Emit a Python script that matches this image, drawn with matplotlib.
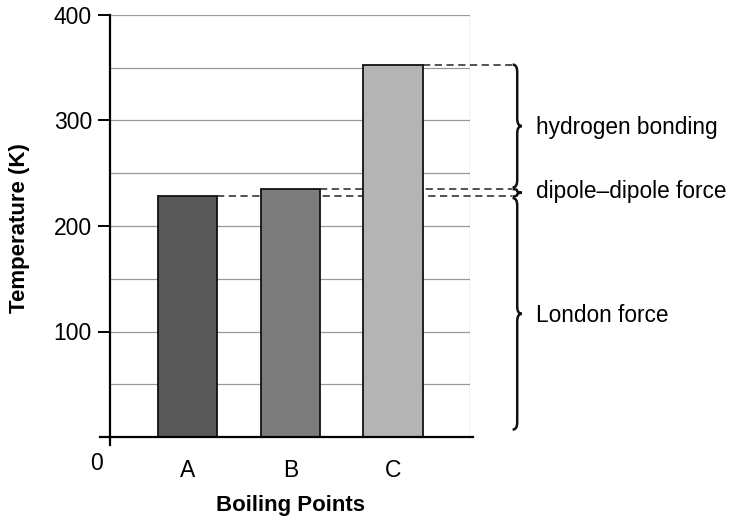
import matplotlib
matplotlib.use("Agg")
import matplotlib.pyplot as plt
import numpy as np
from matplotlib.path import Path
from matplotlib.patches import PathPatch

categories = ["A", "B", "C"]
boiling_points = [228, 235, 353]
bar_colors = ["#585858", "#7c7c7c", "#b4b4b4"]
y_ticks = [100, 200, 300, 400]
grid_levels = [50, 100, 150, 200, 250, 300, 350, 400]
force_labels = ["hydrogen bonding", "dipole\u2013dipole force", "London force"]

plt.rcParams['font.family'] = ['Liberation Sans', 'DejaVu Sans']

fig = plt.figure(figsize=(7.29, 5.18), dpi=100)
ax = fig.add_axes([110/729, 1-437/518, (470-110)/729, (437-15)/518])
x = np.arange(len(categories))
ax.set_xlim(-0.757, 2.75)
ax.set_ylim(0, 400)

for g in grid_levels:
    ax.axhline(g, color="#9a9a9a", lw=0.9, zorder=0)
ax.axvline(2.75, color="#9a9a9a", lw=0.9, zorder=0)

# dashed lines from tops of bars to braces
xend = 3.16
xstarts = [x[0] + 0.29, x[1] + 0.29, x[2] + 0.29]
for xs, v in zip(xstarts, boiling_points):
    ax.plot([xs, xend], [v, v], ls=(0, (4, 2.5)), color="#444444", lw=1.3,
            clip_on=False, zorder=1)

ax.bar(x, boiling_points, width=0.58, color=bar_colors, edgecolor="#111111",
       linewidth=1.3, zorder=2)

for s in ["top", "right"]:
    ax.spines[s].set_visible(False)
ax.spines["left"].set_linewidth(1.6)
ax.spines["bottom"].set_linewidth(1.6)
ax.spines["left"].set_bounds(-8, 400)
ax.spines["bottom"].set_bounds(-0.85, 2.78)

ax.set_yticks(y_ticks)
ax.set_yticklabels([str(t) for t in y_ticks], fontsize=16.5)
ax.tick_params(axis="y", length=9, width=1.4, pad=4)
ax.set_xticks(x)
ax.set_xticklabels(categories, fontsize=16.5)
ax.tick_params(axis="x", length=0, pad=16)
ax.text(-0.885, -14, "0", fontsize=16.5, ha="center", va="top")

ax.set_ylabel("Temperature (K)", fontsize=16, fontweight="bold")
ax.yaxis.set_label_coords((20-110)/360, (437-228)/422)
ax.set_xlabel("Boiling Points", fontsize=16, fontweight="bold")
ax.xaxis.set_label_coords((291-110)/360, -(505-437)/422)
ax.xaxis.label.set_va("center")
ax.yaxis.label.set_va("center")


def brace(ax, xb, y0, y1, w=0.09, r=7):
    # right-facing curly brace from y0 (bottom) to y1 (top)
    ym = (y0 + y1) / 2
    r = min(r, (y1 - y0) / 4)
    verts = [
        (xb - w * 0.5, y1),
        (xb, y1), (xb, y1 - r),
        (xb, ym + r),
        (xb, ym), (xb + w * 0.5, ym),
        (xb, ym), (xb, ym - r),
        (xb, y0 + r),
        (xb, y0), (xb - w * 0.5, y0),
    ]
    codes = [Path.MOVETO,
             Path.CURVE3, Path.CURVE3,
             Path.LINETO,
             Path.CURVE3, Path.CURVE3,
             Path.CURVE3, Path.CURVE3,
             Path.LINETO,
             Path.CURVE3, Path.CURVE3]
    p = PathPatch(Path(verts, codes), fill=False, lw=1.8, color="#111111",
                  clip_on=False)
    ax.add_patch(p)


xb = 3.21
brace(ax, xb, boiling_points[1] + 1.5, boiling_points[2])
brace(ax, xb, boiling_points[0], boiling_points[1])
brace(ax, xb, 7, boiling_points[0] - 1.5)

tx = 3.39
ax.text(tx, 293, force_labels[0], fontsize=16.3, va="center", ha="left")
ax.text(tx, 233, force_labels[1], fontsize=16.3, va="center", ha="left")
ax.text(tx, 115, force_labels[2], fontsize=16.3, va="center", ha="left")

fig.savefig("out.png", dpi=100, facecolor="white")
